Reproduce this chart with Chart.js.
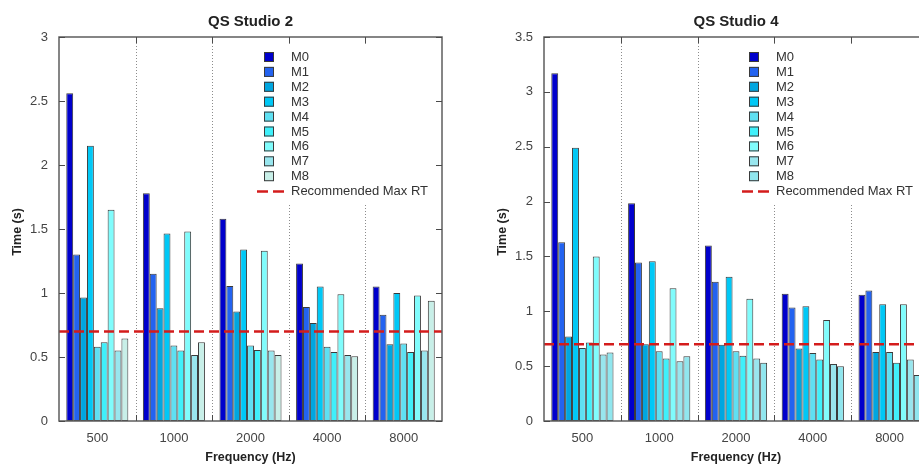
<!DOCTYPE html>
<html><head><meta charset="utf-8">
<script src="https://cdn.jsdelivr.net/npm/chart.js@4.4.0/dist/chart.umd.min.js"></script>
<style>
html,body{margin:0;padding:0;background:#fff;overflow:hidden;}
#wrap{position:relative;width:919px;height:467px;overflow:hidden;background:#fff;}
#c2{position:absolute;left:0;top:0;}
#c4{position:absolute;left:460px;top:0;}
</style></head><body>
<div id="wrap"><canvas id="c2" width="460" height="467"></canvas><canvas id="c4" width="480" height="467"></canvas></div>
<script>
// ---------- DATA ----------
const categories = ['500', '1000', '2000', '4000', '8000'];
const seriesNames = ['M0', 'M1', 'M2', 'M3', 'M4', 'M5', 'M6', 'M7', 'M8'];
const recommendedMaxRT = 0.7;
const recommendedLabel = 'Recommended Max RT';

// QS Studio 2 — reverberation time (s) per series, across frequencies
const studio2M0 = [2.56, 1.78, 1.58, 1.23, 1.05];
const studio2M1 = [1.30, 1.15, 1.055, 0.89, 0.83];
const studio2M2 = [0.965, 0.88, 0.855, 0.765, 0.60];
const studio2M3 = [2.15, 1.465, 1.34, 1.05, 1.00];
const studio2M4 = [0.58, 0.59, 0.59, 0.58, 0.605];
const studio2M5 = [0.615, 0.55, 0.555, 0.54, 0.54];
const studio2M6 = [1.65, 1.48, 1.33, 0.99, 0.98];
const studio2M7 = [0.55, 0.515, 0.55, 0.515, 0.55];
const studio2M8 = [0.645, 0.615, 0.515, 0.505, 0.94];

// QS Studio 4
const studio4M0 = [3.17, 1.985, 1.60, 1.16, 1.15];
const studio4M1 = [1.63, 1.445, 1.27, 1.035, 1.19];
const studio4M2 = [0.77, 0.70, 0.695, 0.66, 0.63];
const studio4M3 = [2.49, 1.455, 1.315, 1.045, 1.065];
const studio4M4 = [0.665, 0.635, 0.635, 0.62, 0.63];
const studio4M5 = [0.715, 0.57, 0.595, 0.56, 0.53];
const studio4M6 = [1.50, 1.21, 1.115, 0.92, 1.065];
const studio4M7 = [0.605, 0.545, 0.57, 0.52, 0.56];
const studio4M8 = [0.625, 0.59, 0.53, 0.50, 0.42];

const studio2Values = [studio2M0, studio2M1, studio2M2, studio2M3, studio2M4, studio2M5, studio2M6, studio2M7, studio2M8];
const studio4Values = [studio4M0, studio4M1, studio4M2, studio4M3, studio4M4, studio4M5, studio4M6, studio4M7, studio4M8];

const studio2YTicks = ['0', '0.5', '1', '1.5', '2', '2.5', '3'];
const studio4YTicks = ['0', '0.5', '1', '1.5', '2', '2.5', '3', '3.5'];

// ---------- STYLE ----------
const studio2Colors = ['#0000cc', '#2363f0', '#00a6e0', '#00c8f6', '#5fe0f2', '#3ff0fa', '#80fcfc', '#98e6ee', '#c8efe8'];
const studio4Colors = ['#0000cc', '#2363f0', '#00a6e0', '#00c8f6', '#5fe0f2', '#3ff0fa', '#80fcfc', '#98e6ee', '#90e6ee'];
const FONT = '"Liberation Sans", Arial, sans-serif';
const RT_COLOR = '#d41c1c';

const decor = {
  id: 'decor',
  beforeDatasetsDraw(chart) {
    const {ctx, chartArea: a, scales: {x}} = chart;
    ctx.save();
    ctx.strokeStyle = '#8c8c8c';
    ctx.lineWidth = 1;
    ctx.setLineDash([1, 2]);
    for (let i = 0; i < x.ticks.length - 1; i++) {
      const px = Math.round((x.getPixelForTick(i) + x.getPixelForTick(i + 1)) / 2) + 0.5;
      ctx.beginPath(); ctx.moveTo(px, a.top); ctx.lineTo(px, a.bottom); ctx.stroke();
    }
    ctx.restore();
  },
  afterDatasetsDraw(chart, args, opts) {
    const {ctx, chartArea: a, scales: {x, y}} = chart;
    ctx.save();
    // recommended max RT reference line, placed through the y scale
    const ry = y.getPixelForValue(opts.refValue);
    ctx.strokeStyle = RT_COLOR;
    ctx.lineWidth = 2.5;
    ctx.setLineDash([10, 5]);
    ctx.beginPath(); ctx.moveTo(a.left, ry); ctx.lineTo(a.right, ry); ctx.stroke();
    ctx.setLineDash([]);

    // legend (white box covers the dividers)
    const lx = a.left + 197, ly = 45;
    ctx.fillStyle = '#ffffff';
    ctx.fillRect(lx, ly, 182, 160);
    const bars = chart.data.datasets;
    ctx.font = '13px ' + FONT;
    ctx.textBaseline = 'middle';
    ctx.textAlign = 'left';
    bars.forEach((d, i) => {
      const cy = 57 + i * 14.9;
      ctx.fillStyle = d.backgroundColor;
      ctx.fillRect(a.left + 205, cy - 5, 10, 10);
      ctx.strokeStyle = '#3a3a3a';
      ctx.lineWidth = 1;
      ctx.strokeRect(a.left + 205.5, cy - 4.5, 9, 9);
      ctx.fillStyle = '#333';
      ctx.fillText(d.label, a.left + 232, cy + 0.5);
    });
    const cyL = 57 + bars.length * 14.9 + 0.5;
    ctx.strokeStyle = RT_COLOR;
    ctx.lineWidth = 2.5;
    ctx.setLineDash([11, 5]);
    ctx.beginPath(); ctx.moveTo(a.left + 198, cyL); ctx.lineTo(a.left + 226, cyL); ctx.stroke();
    ctx.setLineDash([]);
    ctx.fillStyle = '#333';
    ctx.fillText(opts.refLabel, a.left + 232, cyL);

    // frame
    ctx.strokeStyle = '#5e5e5e';
    ctx.lineWidth = 1.5;
    ctx.strokeRect(a.left, a.top, a.right - a.left, a.bottom - a.top);
    // inward tick marks
    ctx.lineWidth = 1;
    ctx.strokeStyle = '#4a4a4a';
    y.ticks.forEach((t, i) => {
      const py = Math.round(y.getPixelForTick(i)) + 0.5;
      ctx.beginPath();
      ctx.moveTo(a.left, py); ctx.lineTo(a.left + 6, py);
      ctx.moveTo(a.right, py); ctx.lineTo(a.right - 6, py);
      ctx.stroke();
    });
    for (let i = 0; i < x.ticks.length - 1; i++) {
      const px = Math.round((x.getPixelForTick(i) + x.getPixelForTick(i + 1)) / 2) + 0.5;
      ctx.beginPath();
      ctx.moveTo(px, a.top); ctx.lineTo(px, a.top + 6);
      ctx.moveTo(px, a.bottom); ctx.lineTo(px, a.bottom - 6);
      ctx.stroke();
    }
    // titles
    ctx.fillStyle = '#222';
    ctx.textAlign = 'center';
    ctx.font = 'bold 15px ' + FONT;
    const cx = (a.left + a.right) / 2;
    ctx.fillText(opts.title, cx, 22);
    ctx.font = 'bold 12.5px ' + FONT;
    ctx.fillText('Frequency (Hz)', cx, 458);
    ctx.save();
    ctx.translate(a.left - 41, (a.top + a.bottom) / 2 + 3);
    ctx.rotate(-Math.PI / 2);
    ctx.fillText('Time (s)', 0, 0);
    ctx.restore();
    ctx.restore();
  }
};

function makeChart(id, title, values, colors, yMax, yTicks, padLeft, axisWidth, padRight) {
  const datasets = seriesNames.map((name, i) => ({
    label: name,
    data: values[i],
    backgroundColor: colors[i],
    borderColor: '#3a3a3a',
    borderWidth: 1,
    borderSkipped: false
  }));
  return new Chart(document.getElementById(id), {
    type: 'bar',
    data: {labels: categories, datasets},
    plugins: [decor],
    options: {
      responsive: false,
      animation: false,
      devicePixelRatio: 1,
      datasets: {bar: {categoryPercentage: 0.81, barPercentage: 1.0}},
      layout: {padding: {left: padLeft, right: padRight, top: 37, bottom: 0}},
      plugins: {
        legend: {display: false},
        title: {display: false},
        tooltip: {enabled: false},
        decor: {title, refValue: recommendedMaxRT, refLabel: recommendedLabel}
      },
      scales: {
        x: {
          type: 'category',
          offset: true,
          grid: {display: false, drawTicks: false},
          border: {display: false},
          ticks: {font: {family: FONT, size: 13}, color: '#444', padding: 10, maxRotation: 0, autoSkip: false},
          afterFit(s) { s.height = 46; }
        },
        y: {
          min: 0, max: yMax,
          grid: {display: false, drawTicks: false},
          border: {display: false},
          ticks: {stepSize: 0.5, font: {family: FONT, size: 13}, color: '#444', padding: 11,
                  callback: (v, i) => yTicks[i]},
          afterFit(s) { s.width = axisWidth; }
        }
      }
    }
  });
}

makeChart('c2', 'QS Studio 2', studio2Values, studio2Colors, 3, studio2YTicks, 0, 59, 18);
makeChart('c4', 'QS Studio 4', studio4Values, studio4Colors, 3.5, studio4YTicks, 26, 58, 12);
</script>
</body></html>
